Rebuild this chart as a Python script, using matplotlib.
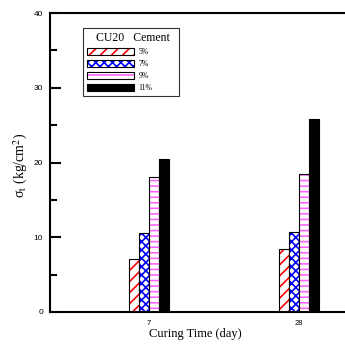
import matplotlib
matplotlib.use("Agg")
import matplotlib.pyplot as plt
import numpy as np
from matplotlib.patches import Patch
from matplotlib.legend_handler import HandlerTuple
from matplotlib.ticker import MultipleLocator

curing_days = ["7", "28"]
cement_labels = ["5%", "7%", "9%", "11%"]
strength = {
    "5%": [7.1, 8.4],
    "7%": [10.6, 10.7],
    "9%": [18.1, 18.4],
    "11%": [20.5, 25.8],
}

hatch_colors = ["red", "blue", "#FF66FF", "black"]
hatches = ["///", "xxxx", "---", ""]
faces = ["white", "white", "white", "black"]

plt.rcParams["hatch.linewidth"] = 1.2
plt.rcParams["mathtext.fontset"] = "stix"
SERIF = "Liberation Serif"
SANS = "Liberation Sans"

fig = plt.figure(figsize=(3.45, 3.47), dpi=100)
ax = fig.add_axes([50 / 345, 35 / 347, 310 / 345, 299 / 347])

x = np.arange(len(curing_days))
w = 10 / 150
handles = []
for i, lab in enumerate(cement_labels):
    pos = x + (i - 1.5) * w
    ax.bar(pos, strength[lab], w, color=faces[i], edgecolor=hatch_colors[i],
           hatch=hatches[i], linewidth=0)
    ax.bar(pos, strength[lab], w, facecolor="none", edgecolor="black", linewidth=0.8)
    h1 = Patch(facecolor=faces[i], edgecolor=hatch_colors[i], hatch=hatches[i], linewidth=0)
    h2 = Patch(facecolor="none", edgecolor="black", linewidth=0.8)
    handles.append((h1, h2))

ax.set_xlim(-0.66, -0.66 + 310 / 150)
ax.set_ylim(0, 40)
ax.set_xticks(x)
ax.set_xticklabels(curing_days, fontfamily=SANS, fontsize=5.5)
ax.yaxis.set_major_locator(MultipleLocator(10))
ax.yaxis.set_minor_locator(MultipleLocator(5))
for t in ax.get_yticklabels():
    t.set_fontfamily(SANS)
    t.set_fontsize(6)
ax.tick_params(axis="y", which="major", direction="in", length=8, width=1.5, pad=5)
ax.tick_params(axis="y", which="minor", direction="in", length=5, width=1.5)
ax.tick_params(axis="x", direction="in", length=2, width=0.8, pad=6)
for s in ax.spines.values():
    s.set_linewidth(1.5)

ax.set_xlabel("Curing Time (day)", fontfamily=SERIF, fontsize=9)
ax.xaxis.set_label_coords(0.47, -0.055)
ax.set_ylabel(r"σ$_\mathrm{t}$ (kg/cm$^2$)", fontfamily=SERIF, fontsize=10)
ax.yaxis.set_label_coords(-0.065, 0.49)

leg = ax.legend(handles, cement_labels, handler_map={tuple: HandlerTuple(ndivide=1)},
                title="   CU20   Cement  ", loc="upper left", bbox_to_anchor=(0.106, 0.95),
                prop={"family": SERIF, "size": 5.5},
                title_fontproperties={"family": SERIF, "size": 8.5},
                frameon=True, fancybox=False, edgecolor="black", handlelength=6.2,
                handleheight=1.05, labelspacing=0.52, borderpad=0.5, handletextpad=0.6,
                borderaxespad=0)
leg.get_frame().set_linewidth(0.8)
leg._legend_box.align = "left"

fig.savefig("out.png", dpi=100)
